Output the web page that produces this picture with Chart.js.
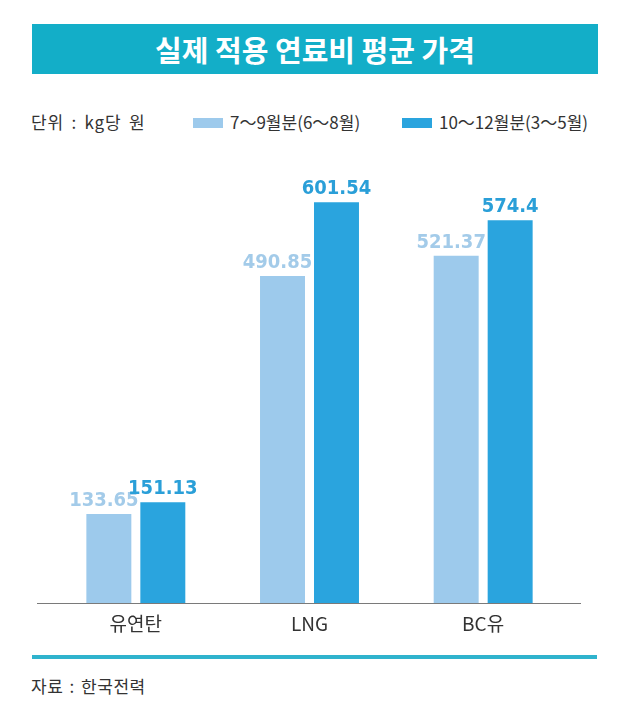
<!DOCTYPE html>
<html>
<head>
<meta charset="utf-8">
<script src="https://cdn.jsdelivr.net/npm/chart.js@4/dist/chart.umd.min.js"></script>
<style>
  html, body { margin: 0; padding: 0; background: #ffffff; }
  #wrap { position: relative; width: 630px; height: 706px; overflow: hidden; background: #fff;
          font-family: "Noto Sans CJK KR", "Noto Sans", sans-serif; color: #333; }
  #banner { position: absolute; left: 32px; top: 24px; width: 566px; height: 50px; background: #13aec8;
            color: #fff; font-size: 29px; font-weight: 700; letter-spacing: 0px; text-align: center; line-height: 50px; }
  #unit { position: absolute; left: 31px; top: 110px; font-size: 17px; line-height: 24px; color: #333; word-spacing: 3px; letter-spacing: 0.8px; }
  .leg { position: absolute; top: 110px; font-size: 17px; line-height: 24px; color: #333; white-space: nowrap; }
  .leg i { display: inline-block; width: 30px; height: 10px; vertical-align: middle; margin-right: 7px; position: relative; top: -1px; }
  #bottomline { position: absolute; left: 32px; top: 655px; width: 565px; height: 4px; background: #2fb3cd; }
  #source { position: absolute; left: 31px; top: 674px; font-size: 17px; line-height: 24px; color: #333; word-spacing: 2px; letter-spacing: 0.5px; }
  #cv { position: absolute; left: 0; top: 150px; }
</style>
</head>
<body>
<div id="wrap">
  <div id="banner">실제 적용 연료비 평균 가격</div>
  <div id="unit">단위 : kg당 원</div>
  <div class="leg" id="leg1" style="left:193px"><i style="background:#9dcaec"></i><span id="l1"></span></div>
  <div class="leg" id="leg2" style="left:402px"><i style="background:#2aa4de"></i><span id="l2"></span></div>
  <canvas id="cv" width="630" height="500"></canvas>
  <div id="bottomline"></div>
  <div id="source">자료 : 한국전력</div>
</div>
<script>
const categories = ["유연탄", "LNG", "BC유"];
const seriesNames = ["7～9월분(6～8월)", "10～12월분(3～5월)"];
const valuesJulSep = [133.65, 490.85, 521.37];
const valuesOctDec = [151.13, 601.54, 574.4];
const valueLabelsJulSep = ["133.65", "490.85", "521.37"];
const valueLabelsOctDec = ["151.13", "601.54", "574.4"];

document.getElementById("l1").textContent = seriesNames[0];
document.getElementById("l2").textContent = seriesNames[1];

const labelColors = ["#a3cbe9", "#2a9fd8"];
const labelTexts = [valueLabelsJulSep, valueLabelsOctDec];
const labelShift = [-5, 0];

const valueLabelPlugin = {
  id: "valueLabels",
  afterDatasetsDraw(chart) {
    const ctx = chart.ctx;
    ctx.save();
    ctx.font = "bold 20px 'DejaVu Sans Condensed', 'DejaVu Sans', sans-serif";
    ctx.textAlign = "center";
    ctx.textBaseline = "alphabetic";
    chart.data.datasets.forEach((ds, di) => {
      const meta = chart.getDatasetMeta(di);
      meta.data.forEach((bar, i) => {
        ctx.fillStyle = labelColors[di];
        ctx.fillText(labelTexts[di][i], bar.x + labelShift[di], bar.y - 8);
      });
    });
    ctx.restore();
  }
};

const baselinePlugin = {
  id: "baseline",
  afterDatasetsDraw(chart) {
    const ctx = chart.ctx;
    const a = chart.chartArea;
    const y = chart.scales.y.getPixelForValue(0);
    ctx.save();
    ctx.strokeStyle = "#7a7a7a";
    ctx.lineWidth = 1;
    ctx.beginPath();
    ctx.moveTo(a.left - 12, Math.round(y) + 0.5);
    ctx.lineTo(a.right + 11, Math.round(y) + 0.5);
    ctx.stroke();
    ctx.restore();
  }
};

new Chart(document.getElementById("cv"), {
  type: "bar",
  data: {
    labels: categories,
    datasets: [
      { label: seriesNames[0], data: valuesJulSep, backgroundColor: "#9dcaec", borderWidth: 0 },
      { label: seriesNames[1], data: valuesOctDec, backgroundColor: "#2aa4de", borderWidth: 0 }
    ]
  },
  options: {
    responsive: false,
    animation: false,
    devicePixelRatio: 1,
    layout: { padding: { left: 49, right: 60, top: 20, bottom: 0 } },
    datasets: { bar: { categoryPercentage: 0.6216, barPercentage: 0.8333 } },
    plugins: { legend: { display: false }, tooltip: { enabled: false }, title: { display: false } },
    scales: {
      x: {
        grid: { display: false },
        border: { display: false },
        ticks: { color: "#333", font: { family: "'Noto Sans CJK KR'", size: 19 }, padding: 1 },
        afterFit(scale) { scale.height = 47; }
      },
      y: {
        display: false,
        min: 0,
        max: 650
      }
    }
  },
  plugins: [valueLabelPlugin, baselinePlugin]
});
</script>
</body>
</html>
